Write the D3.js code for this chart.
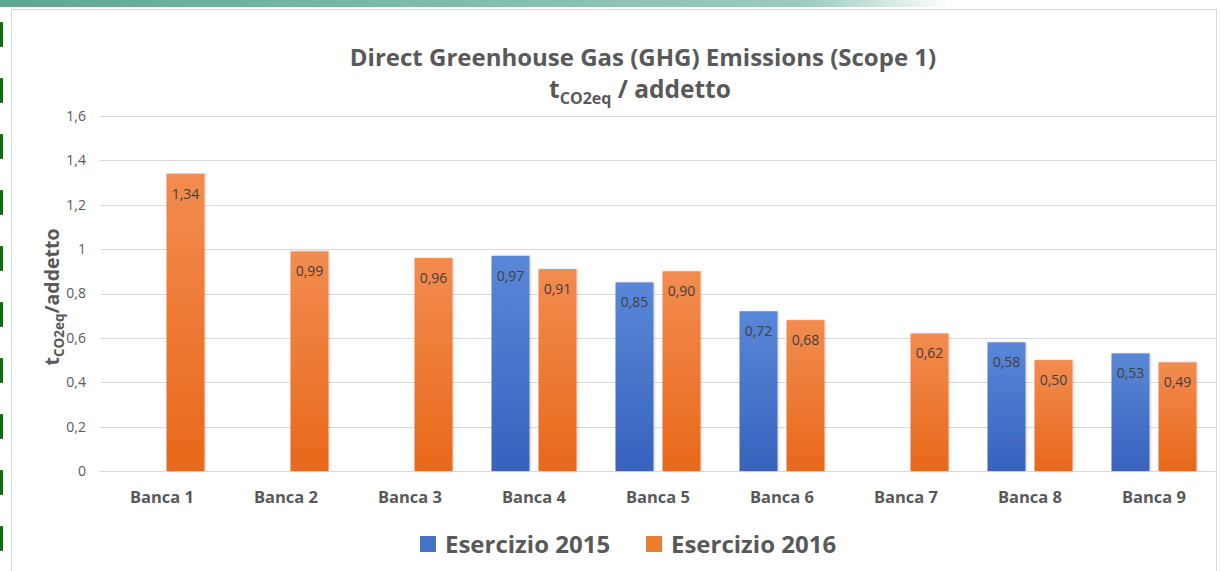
<!DOCTYPE html>
<html>
<head>
<meta charset="utf-8">
<script src="https://cdn.jsdelivr.net/npm/d3@7"></script>
<style>
  body { margin: 0; background: #fff; }
  svg { display: block; font-family: "Open Sans", sans-serif; }
</style>
</head>
<body>
<svg width="1221" height="571"></svg>
<script>
// data
var categories = ["Banca 1","Banca 2","Banca 3","Banca 4","Banca 5","Banca 6","Banca 7","Banca 8","Banca 9"];
var series2015 = [null, null, null, 0.97, 0.85, 0.72, null, 0.58, 0.53];
var series2016 = [1.34, 0.99, 0.96, 0.91, 0.90, 0.68, 0.62, 0.50, 0.49];
var seriesNames = ["Esercizio 2015", "Esercizio 2016"];
var yTicks = [0, 0.2, 0.4, 0.6, 0.8, 1, 1.2, 1.4, 1.6];

var width = 1221, height = 571;
var svg = d3.select("svg");
var defs = svg.append("defs");

// slide decoration: top band + green marks on left edge
var topGrad = defs.append("linearGradient").attr("id","topband");
topGrad.append("stop").attr("offset","0%").attr("stop-color","#5ea793");
topGrad.append("stop").attr("offset","85%").attr("stop-color","#9accbf");
topGrad.append("stop").attr("offset","100%").attr("stop-color","#ffffff");
svg.append("rect").attr("x",0).attr("y",0).attr("width",950).attr("height",7).attr("fill","url(#topband)");
d3.range(22, 540, 56).forEach(function(y){
    svg.append("rect").attr("x",0).attr("y",y).attr("width",3).attr("height",25).attr("rx",1).attr("fill","#0b6e0b");
});

// chart frame
svg.append("rect").attr("x",11.5).attr("y",9.5).attr("width",1205).attr("height",570)
    .attr("fill","#fff").attr("stroke","#d9d9d9").attr("stroke-width",1);

function makeGrad(id, top, bottom){
    var g = defs.append("linearGradient").attr("id",id).attr("x1",0).attr("y1",0).attr("x2",0).attr("y2",1);
    g.append("stop").attr("offset","0%").attr("stop-color",top);
    g.append("stop").attr("offset","100%").attr("stop-color",bottom);
}
makeGrad("g2015","#5a87d8","#3762bd");
makeGrad("g2016","#f28c50","#e8681a");
var colors = ["#4472c4","#ed7d31"];

var plot = {left:100, right:1216, top:116, bottom:471};

var x = d3.scaleBand().domain(categories).range([plot.left, plot.right]).paddingInner(0).paddingOuter(0);
var barW = 38, gap = 9;
var y = d3.scaleLinear().domain([0,1.6]).range([plot.bottom, plot.top]);

// gridlines
svg.append("g").selectAll("line").data(yTicks).join("line")
    .attr("x1",plot.left).attr("x2",plot.right)
    .attr("y1",d => Math.round(y(d))+0.5).attr("y2",d => Math.round(y(d))+0.5)
    .attr("stroke","#d9d9d9").attr("stroke-width",1);

// y axis tick labels
var fmt = function(d){ return String(d).replace(".", ","); };
var yAxis = d3.axisLeft(y).tickValues(yTicks).tickFormat(fmt).tickSize(0).tickPadding(0);
var ya = svg.append("g").attr("transform","translate(86,0)").call(yAxis);
ya.select(".domain").remove();
ya.selectAll("text").attr("fill","#595959").style("font-size","14px").style("font-family","'Open Sans', sans-serif");

// bars
var all = [series2015, series2016];
var grads = ["url(#g2015)","url(#g2016)"];
var shadow = defs.append("filter").attr("id","sh").attr("x","-20%").attr("y","-10%").attr("width","140%").attr("height","120%");
shadow.append("feDropShadow").attr("dx",1).attr("dy",0).attr("stdDeviation",1.2).attr("flood-color","#000").attr("flood-opacity",0.18);

all.forEach(function(series, s){
    var pts = categories.map(function(c,i){ return {c:c, v:series[i]}; }).filter(d => d.v != null);
    var offset = s === 0 ? -(barW + gap/2) : gap/2;
    var g = svg.append("g");
    g.selectAll("rect").data(pts).join("rect")
        .attr("x", d => x(d.c) + x.bandwidth()/2 + offset)
        .attr("y", d => y(d.v))
        .attr("width", barW)
        .attr("height", d => y(0) - y(d.v))
        .attr("fill", grads[s])
        .attr("filter","url(#sh)");
    g.selectAll("text").data(pts).join("text")
        .attr("x", d => x(d.c) + x.bandwidth()/2 + offset + barW/2)
        .attr("y", d => y(d.v) + 25)
        .attr("text-anchor","middle")
        .attr("fill","#404040")
        .style("font-size","14px")
        .text(d => d.v.toFixed(2).replace(".", ","));
});

// category labels
svg.append("g").selectAll("text").data(categories).join("text")
    .attr("x", d => x(d) + x.bandwidth()/2)
    .attr("y", 503)
    .attr("text-anchor","middle")
    .attr("fill","#595959")
    .style("font-size","16.5px").style("font-weight","bold")
    .text(d => d);

// title
svg.append("text").attr("x",643).attr("y",66).attr("text-anchor","middle")
    .attr("fill","#595959").style("font-size","24px").style("font-weight","bold")
    .text("Direct Greenhouse Gas (GHG) Emissions (Scope 1)");
var t2 = svg.append("text").attr("x",640).attr("y",98).attr("text-anchor","middle")
    .attr("fill","#595959").style("font-size","24.5px").style("font-weight","bold");
t2.append("tspan").text("t");
t2.append("tspan").attr("dy",6).style("font-size","16px").text("CO2eq");
t2.append("tspan").attr("dy",-6).text(" / addetto");

// y axis title
var yt = svg.append("text").attr("transform","translate(59,297) rotate(-90)").attr("text-anchor","middle")
    .attr("fill","#595959").style("font-size","19.5px").style("font-weight","bold");
yt.append("tspan").text("t");
yt.append("tspan").attr("dy",5).style("font-size","13.5px").text("CO2eq");
yt.append("tspan").attr("dy",-5).text("/addetto");

// legend
var legX = [420, 646];
seriesNames.forEach(function(n, i){
    var lg = svg.append("g").attr("transform","translate(" + legX[i] + ",536)");
    lg.append("rect").attr("x",0).attr("y",0).attr("width",16).attr("height",16).attr("fill",colors[i]);
    lg.append("text").attr("x",25).attr("y",17).attr("fill","#595959")
        .style("font-size","24px").style("font-weight","bold").text(n);
});
</script>
</body>
</html>
